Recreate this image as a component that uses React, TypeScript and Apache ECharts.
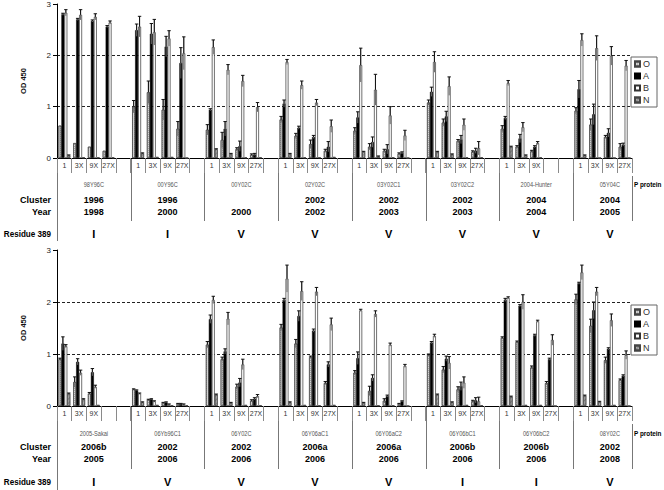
import React, { useEffect, useRef } from "react";
import * as echarts from "echarts";

const DILUTIONS = ["1", "3X", "9X", "27X"];
const SERIES_NAMES = ["O", "A", "B", "N"];

// ---------- top panel ----------
const TOP_VIRUS = ["98Y96C", "00Y96C", "00Y02C", "02Y02C", "03Y02C1", "03Y02C2", "2004-Hunter", "05Y04C"];
const TOP_CLUSTER = ["1996", "1996", "", "2002", "2002", "2002", "2004", "2004"];
const TOP_YEAR = ["1998", "2000", "2000", "2002", "2003", "2003", "2004", "2005"];
const TOP_RESIDUE = ["I", "I", "V", "V", "V", "V", "V", "V"];

const TOP_O = [0.63, 0.29, 0.22, 0.14, 1.0, 1.28, 0.94, 0.57, 0.55, 0.35, 0.17, 0.06, 0.75, 0.43, 0.27, 0.14, 0.53, 0.22, 0.14, 0.08, 1.08, 0.69, 0.33, 0.12, 0.57, 0.22, 0.13, null, 0.92, 0.65, 0.41, 0.22];
const TOP_O_ERR = [0, 0, 0, 0, 0.12, 0.22, 0.2, 0.14, 0.1, 0.15, 0.03, 0.02, 0.06, 0.05, 0.08, 0.03, 0.06, 0.06, 0.03, 0.02, 0.05, 0.07, 0.03, 0.02, 0.06, 0.02, 0.02, null, 0.06, 0.11, 0.03, 0.06];
const TOP_A = [2.8, 2.7, 2.67, 2.56, 2.49, 2.42, 2.17, 1.85, 0.94, 0.57, 0.23, 0.07, 1.06, 0.59, 0.41, 0.22, 0.79, 0.31, 0.17, 0.1, 1.29, 0.81, 0.36, 0.14, 0.78, 0.38, 0.22, null, 1.34, 0.85, 0.49, 0.26];
const TOP_A_ERR = [0.02, 0.02, 0.02, 0.02, 0.12, 0.2, 0.2, 0.3, 0.02, 0.14, 0.1, 0.02, 0.07, 0.03, 0.03, 0.1, 0.11, 0.1, 0.09, 0.02, 0.09, 0.1, 0.08, 0.05, 0.03, 0.08, 0.02, null, 0.17, 0.2, 0.08, 0.03];
const TOP_B = [2.83, 2.79, 2.75, 2.64, 2.56, 2.45, 2.33, 2.04, 2.16, 1.72, 1.5, 0.99, 1.87, 1.42, 1.08, 0.62, 1.81, 1.33, 0.83, 0.44, 1.87, 1.4, 0.65, 0.19, 1.46, 0.6, 0.29, null, 2.3, 2.14, 1.99, 1.8];
const TOP_B_ERR = [0.06, 0.1, 0.06, 0.03, 0.2, 0.25, 0.15, 0.32, 0.14, 0.1, 0.11, 0.09, 0.05, 0.08, 0.06, 0.12, 0.33, 0.3, 0.17, 0.1, 0.2, 0.18, 0.11, 0.13, 0.05, 0.09, 0.03, null, 0.12, 0.24, 0.18, 0.1];
const TOP_N = [0.05, 0.01, 0.01, 0.01, 0.09, 0.02, 0.02, 0.0, 0.17, 0.08, 0.01, 0.01, 0.08, 0.01, 0.01, 0.02, 0.12, 0.03, 0.01, 0.0, 0.12, 0.07, 0.01, 0.01, 0.22, 0.05, 0.01, null, 0.05, 0.0, 0.0, 0.0];
const TOP_N_ERR = [0.01, 0, 0, 0, 0.01, 0, 0, 0, 0.01, 0.01, 0, 0, 0.01, 0, 0, 0, 0.01, 0.01, 0, 0, 0.01, 0.01, 0, 0, 0.01, 0.01, 0, null, 0.01, 0, 0, 0];

// ---------- bottom panel ----------
const BOTTOM_VIRUS = ["2005-Sakai", "06Yb96C1", "06Y02C", "06Y06aC1", "06Y06aC2", "06Y06bC1", "06Y06bC2", "08Y02C"];
const BOTTOM_CLUSTER = ["2006b", "2002", "2002", "2006a", "2006a", "2006b", "2006b", "2002"];
const BOTTOM_YEAR = ["2005", "2006", "2006", "2006", "2006", "2006", "2006", "2008"];
const BOTTOM_RESIDUE = ["I", "V", "V", "V", "V", "I", "I", "V"];

const BOT_O = [0.9, 0.46, 0.24, null, 0.32, 0.12, 0.06, 0.04, 1.18, 0.9, 0.37, 0.1, 1.51, 1.2, 0.94, 0.44, 0.64, 0.29, 0.1, 0.04, 0.98, 0.7, 0.32, 0.09, 1.31, 1.23, 0.74, 0.44, 2.05, 1.54, 0.88, 0.5];
const BOT_O_ERR = [0.02, 0.1, 0.02, null, 0.01, 0.01, 0.01, 0.01, 0.06, 0.04, 0.05, 0.02, 0.06, 0.08, 0.02, 0.03, 0.04, 0.09, 0.04, 0.01, 0.02, 0.06, 0.05, 0.02, 0.02, 0.02, 0.03, 0.03, 0.1, 0.13, 0.06, 0.02];
const BOT_A = [1.2, 0.85, 0.65, null, 0.3, 0.13, 0.07, 0.04, 1.67, 1.05, 0.45, 0.14, 2.04, 1.73, 1.45, 0.8, 0.92, 0.54, 0.19, 0.09, 1.22, 0.91, 0.38, 0.11, 2.04, 1.93, 1.36, 0.9, 2.36, 1.84, 1.1, 0.58];
const BOT_A_ERR = [0.13, 0.06, 0.07, null, 0.01, 0.01, 0.01, 0.01, 0.08, 0.05, 0.08, 0.02, 0.03, 0.1, 0.03, 0.05, 0.12, 0.06, 0.02, 0.01, 0.02, 0.05, 0.08, 0.05, 0.03, 0.02, 0.02, 0.02, 0.02, 0.16, 0.02, 0.02];
const BOT_B = [1.15, 0.64, 0.37, null, 0.24, 0.09, 0.03, 0.03, 2.04, 1.68, 0.8, 0.19, 2.45, 2.21, 2.2, 1.57, 1.84, 1.77, 1.18, 0.77, 1.35, 0.83, 0.45, 0.09, 2.08, 2.0, 1.63, 1.27, 2.57, 2.2, 1.65, 0.98];
const BOT_B_ERR = [0.03, 0.05, 0.03, null, 0.01, 0.01, 0.01, 0.01, 0.07, 0.12, 0.1, 0.03, 0.26, 0.18, 0.08, 0.12, 0.02, 0.06, 0.03, 0.03, 0.03, 0.12, 0.11, 0.08, 0.02, 0.14, 0.02, 0.1, 0.14, 0.08, 0.12, 0.08];
const BOT_N = [0.24, 0.13, 0.02, null, 0.07, 0.02, 0.01, 0.01, 0.22, 0.06, 0.02, 0.01, 0.07, 0.02, 0.01, 0.02, 0.06, 0.01, 0.01, 0.0, 0.22, 0.07, 0.02, 0.01, 0.18, 0.02, 0.02, 0.0, 0.2, 0.08, 0.02, 0.0];
const BOT_N_ERR = [0.01, 0.01, 0, null, 0.01, 0, 0, 0, 0.01, 0.01, 0, 0, 0.01, 0, 0, 0, 0.01, 0, 0, 0, 0.01, 0.01, 0, 0, 0.01, 0, 0, 0, 0.01, 0.01, 0, 0];

const Y_TICKS = [0, 1, 2, 3];

const PANELS = [
  {
    values: [TOP_O, TOP_A, TOP_B, TOP_N],
    errors: [TOP_O_ERR, TOP_A_ERR, TOP_B_ERR, TOP_N_ERR],
    virus: TOP_VIRUS, cluster: TOP_CLUSTER, year: TOP_YEAR, residue: TOP_RESIDUE,
    grid: { left: 57, right: 32, top: 3, height: 155 },
    rows: [184, 200, 212, 234], bottomLine: 241, legendTop: 57,
  },
  {
    values: [BOT_O, BOT_A, BOT_B, BOT_N],
    errors: [BOT_O_ERR, BOT_A_ERR, BOT_B_ERR, BOT_N_ERR],
    virus: BOTTOM_VIRUS, cluster: BOTTOM_CLUSTER, year: BOTTOM_YEAR, residue: BOTTOM_RESIDUE,
    grid: { left: 57, right: 32, top: 250, height: 156 },
    rows: [433, 447, 459, 482], bottomLine: 490, legendTop: 305,
  },
];

const ARIAL = "'Liberation Sans', Arial, sans-serif";

const BAR_STYLES = [
  { color: "#d2d2d2", borderColor: "#444", borderWidth: 0.6, decal: { symbol: "rect", symbolSize: 1, color: "rgba(70,70,70,0.35)", dashArrayX: [1, 1], dashArrayY: [1, 1], rotation: 0 } },
  { color: "#000000", borderColor: "#000000", borderWidth: 0.5 },
  { color: "#ffffff", borderColor: "#333333", borderWidth: 0.7 },
  { color: "#aaaaaa", borderColor: "#444", borderWidth: 0.6, decal: { symbol: "rect", symbolSize: 1, color: "rgba(60,60,60,0.35)", dashArrayX: [1, 0], dashArrayY: [1, 2], rotation: -Math.PI / 4 } },
];

function expand(v: (number | null)[]) {
  const out: (number | null)[] = [];
  for (let g = 0; g < 8; g++) {
    for (let d = 0; d < 4; d++) out.push(v[g * 4 + d]);
    if (g < 7) out.push(null);
  }
  return out;
}

function slotLabels(values: (number | null)[][]) {
  const labels: string[] = [];
  for (let g = 0; g < 8; g++) {
    for (let d = 0; d < 4; d++) {
      const has = values.some((arr) => arr[g * 4 + d] !== null);
      labels.push(has ? DILUTIONS[d] : "");
    }
    if (g < 7) labels.push("");
  }
  return labels;
}

const renderErr = (params: any, api: any) => {
  const i = api.value(0);
  const v = api.value(1);
  const e = api.value(2);
  const si = api.value(3);
  const band = api.size([1, 0])[0];
  const bw = (band * 0.8) / 4;
  const cx = api.coord([i, v])[0] + (si - 1.5) * bw;
  const yTop = api.coord([i, v + e])[1];
  const yBot = api.coord([i, Math.max(0, v - e)])[1];
  const cap = 1.7;
  const st = { stroke: "#111", lineWidth: 1 };
  return {
    type: "group",
    children: [
      { type: "line", shape: { x1: cx, y1: yTop, x2: cx, y2: yBot }, style: { stroke: "#666", lineWidth: 1 } },
      { type: "line", shape: { x1: cx, y1: yTop, x2: cx, y2: api.coord([i, v])[1] }, style: st },
      { type: "line", shape: { x1: cx - cap, y1: yTop, x2: cx + cap, y2: yTop }, style: st },
    ],
  };
};

export default function App() {
  const ref = useRef<HTMLDivElement>(null);

  useEffect(() => {
    if (!ref.current) return;
    const chart = echarts.init(ref.current, null, { renderer: "svg" });

    const grids: any[] = [];
    const xAxes: any[] = [];
    const yAxes: any[] = [];
    const legends: any[] = [];
    const series: any[] = [];

    PANELS.forEach((p, pi) => {
      const labels = slotLabels(p.values);
      grids.push(p.grid);
      xAxes.push({
        type: "category",
        gridIndex: pi,
        data: labels.map((_, i) => "s" + i),
        axisLine: { lineStyle: { color: "#000", width: 1 } },
        axisTick: { show: true, interval: 0, length: 15, lineStyle: { color: "#8a8a8a", width: 1 } },
        axisLabel: {
          interval: 0,
          margin: 4,
          fontSize: 7,
          fontFamily: ARIAL,
          color: "#333",
          formatter: (_v: string, idx: number) => labels[idx],
        },
      });
      yAxes.push({
        type: "value",
        gridIndex: pi,
        min: Y_TICKS[0],
        max: Y_TICKS[Y_TICKS.length - 1],
        interval: 1,
        name: "OD 450",
        nameLocation: "middle",
        nameGap: 30,
        nameTextStyle: { fontSize: 7.5, fontWeight: "bold", fontFamily: ARIAL, color: "#111" },
        axisLine: { show: true, lineStyle: { color: "#000", width: 1 } },
        axisTick: { show: true, length: 4, lineStyle: { color: "#000" } },
        axisLabel: { fontSize: 8, fontFamily: ARIAL, color: "#222", margin: 6 },
        splitLine: {
          show: true,
          lineStyle: { color: ["rgba(0,0,0,0)", "#222", "#222", "rgba(0,0,0,0)"], type: [3, 2], width: 1 },
        },
      });
      legends.push({
        left: 631,
        top: p.legendTop,
        orient: "vertical",
        icon: "rect",
        itemWidth: 5,
        itemHeight: 5,
        itemGap: 2,
        padding: [2, 7, 2, 3],
        borderColor: "#666",
        borderWidth: 1,
        selectedMode: false,
        textStyle: { fontSize: 9, fontFamily: ARIAL, color: "#333", lineHeight: 10, padding: [0, 0, 0, -2] },
        data: SERIES_NAMES,
      });
      SERIES_NAMES.forEach((name, si) => {
        series.push({
          type: "bar",
          name,
          xAxisIndex: pi,
          yAxisIndex: pi,
          data: expand(p.values[si]),
          barCategoryGap: "20%",
          barGap: "0%",
          itemStyle: BAR_STYLES[si],
          silent: true,
        });
      });
      const errData: number[][] = [];
      SERIES_NAMES.forEach((_n, si) => {
        const vals = expand(p.values[si]);
        const errs = expand(p.errors[si]);
        vals.forEach((v, i) => {
          const e = errs[i];
          if (v !== null && e !== null && e > 0) errData.push([i, v, e, si]);
        });
      });
      series.push({
        type: "custom",
        name: "err" + pi,
        xAxisIndex: pi,
        yAxisIndex: pi,
        data: errData,
        encode: { x: 0, y: 1 },
        renderItem: renderErr,
        clip: false,
        silent: true,
        z: 5,
      });
    });

    chart.setOption({
      animation: false,
      backgroundColor: "#ffffff",
      grid: grids,
      xAxis: xAxes,
      yAxis: yAxes,
      legend: legends,
      series,
    });

    // table under each panel
    const graphics: any[] = [];
    const txt = (text: string, x: number, y: number, align: string, size: number, bold: boolean, fill: string, scaleX = 1) => ({
      type: "text",
      silent: true,
      x,
      y,
      scaleX,
      style: { text, x: 0, y: 0, textAlign: align, textVerticalAlign: "middle", fontSize: size, fontWeight: bold ? "bold" : "normal", fontFamily: ARIAL, fill },
    });
    PANELS.forEach((p, pi) => {
      const c0 = chart.convertToPixel({ xAxisIndex: pi }, 0) as number;
      const c1 = chart.convertToPixel({ xAxisIndex: pi }, 1) as number;
      const band = c1 - c0;
      const leftEdge = c0 - band / 2;
      const axisY = chart.convertToPixel({ yAxisIndex: pi }, 0) as number;
      const lineY2 = axisY + 63;
      const st = { stroke: "#777", lineWidth: 1 };
      for (let g = 1; g < 8; g++) {
        const x = Math.round(leftEdge + band * 5 * g) + 0.5;
        graphics.push({ type: "line", shape: { x1: x, y1: axisY, x2: x, y2: lineY2 }, style: st, silent: true });
      }
      const rightX = Math.round(leftEdge + band * 39) + 0.5;
      graphics.push({ type: "line", shape: { x1: rightX, y1: axisY + 18, x2: rightX, y2: lineY2 }, style: st, silent: true });
      const lx = Math.round(leftEdge) + 0.5;
      graphics.push({ type: "line", shape: { x1: lx, y1: axisY, x2: lx, y2: p.bottomLine }, style: { stroke: "#777", lineWidth: 1 }, silent: true });

      for (let g = 0; g < 8; g++) {
        const cx = leftEdge + band * (5 * g + 2.5);
        graphics.push(txt(p.virus[g], cx, p.rows[0], "center", 7.5, false, "#555", 0.75));
        if (p.cluster[g]) graphics.push(txt(p.cluster[g], cx, p.rows[1], "center", 9, true, "#000"));
        graphics.push(txt(p.year[g], cx, p.rows[2], "center", 9, true, "#000"));
        graphics.push(txt(p.residue[g], cx, p.rows[3], "center", 11, true, "#000"));
      }
      graphics.push(txt("Cluster", 51, p.rows[1], "right", 9, true, "#000"));
      graphics.push(txt("Year", 51, p.rows[2], "right", 9, true, "#000"));
      graphics.push(txt("Residue 389", 51, p.rows[3], "right", 9, true, "#000", 0.9));
      graphics.push(txt("P protein", rightX + 1.5, p.rows[0], "left", 7.5, true, "#000", 0.85));
    });
    chart.setOption({ graphic: graphics });

    return () => chart.dispose();
  }, []);

  return (
    <div
      ref={ref}
      style={{ position: "fixed", left: 0, top: 0, width: 664, height: 490, background: "#fff" }}
    />
  );
}
